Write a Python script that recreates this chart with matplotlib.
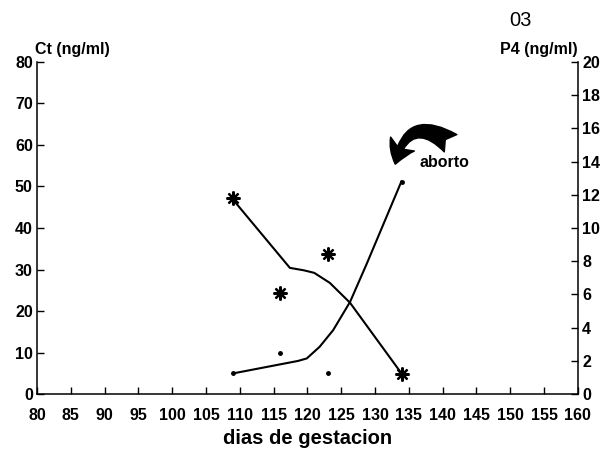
import matplotlib.pyplot as plt

plt.rcParams['font.family'] = ['Liberation Sans', 'DejaVu Sans']

# samples: days of gestation
dias = [109, 116, 123, 134]
ct = [5.0, 10.0, 5.2, 51.0]          # ng/ml, left axis
p4 = [11.8, 6.1, 8.45, 1.2]          # ng/ml, right axis

# hand-drawn trend curves
ct_trend_dias = [109, 118.6, 119.9, 121.8, 123.8, 126.3, 128.8, 131.7, 133.9]
ct_trend = [5.0, 8.0, 8.6, 11.4, 15.4, 22.2, 31.5, 42.7, 51.2]
p4_trend_dias = [108.8, 117.4, 119.5, 121.0, 123.3, 126.3, 134.0]
p4_trend = [11.8, 7.6, 7.45, 7.3, 6.7, 5.5, 1.2]

xticks = list(range(80, 161, 5))
ct_ticks = list(range(0, 81, 10))
p4_ticks = list(range(0, 21, 2))

fig = plt.figure(figsize=(6.07, 4.51), dpi=100)
ax = fig.add_axes([0.061, 0.126, 0.891, 0.737])
ax2 = ax.twinx()

ax.plot(ct_trend_dias, ct_trend, color='black', lw=1.5)
ax.plot(dias, ct, 'o', color='black', ms=2.5)
ax2.plot(p4_trend_dias, p4_trend, color='black', lw=1.5)
ax2.plot(dias, p4, linestyle='none', marker=(8, 2, 0), color='black', ms=10, mew=1.6)

ax.set_xlim(80, 160)
ax.set_ylim(0, 80)
ax2.set_ylim(0, 20)
ax.set_xticks(xticks)
ax.set_yticks(ct_ticks)
ax2.set_yticks(p4_ticks)

for a in (ax, ax2):
    a.spines['top'].set_visible(False)
    for s in a.spines.values():
        s.set_linewidth(1.1)
    a.tick_params(direction='in', length=5, width=1.0, labelsize=11.5, pad=3)
ax.tick_params(axis='x', pad=10)
ax.spines['right'].set_visible(False)
ax2.spines['left'].set_visible(False)
ax2.spines['bottom'].set_visible(False)
for lab in ax.get_xticklabels() + ax.get_yticklabels() + ax2.get_yticklabels():
    lab.set_fontweight('bold')

ax.set_xlabel('dias de gestacion', fontsize=14.5, fontweight='bold', labelpad=4)
ax.text(-0.004, 1.015, 'Ct (ng/ml)', transform=ax.transAxes, fontsize=11.5,
        fontweight='bold', ha='left', va='bottom')
ax.text(1.0, 1.015, 'P4 (ng/ml)', transform=ax.transAxes, fontsize=11.5,
        fontweight='bold', ha='right', va='bottom')
ax.text(0.893, 1.123, '03', transform=ax.transAxes, fontsize=14.5,
        ha='center', va='center')

# abortion marker
ax.annotate('', xy=(132.9, 54.7), xytext=(141.5, 60.0),
            arrowprops=dict(arrowstyle='fancy,head_length=0.7,head_width=0.9,tail_width=0.7',
                            connectionstyle='arc3,rad=0.8', color='black',
                            mutation_scale=22))
ax.text(136.6, 55.7, 'aborto', fontsize=11.5, fontweight='bold', ha='left', va='center')

fig.savefig('out.png', dpi=100)
